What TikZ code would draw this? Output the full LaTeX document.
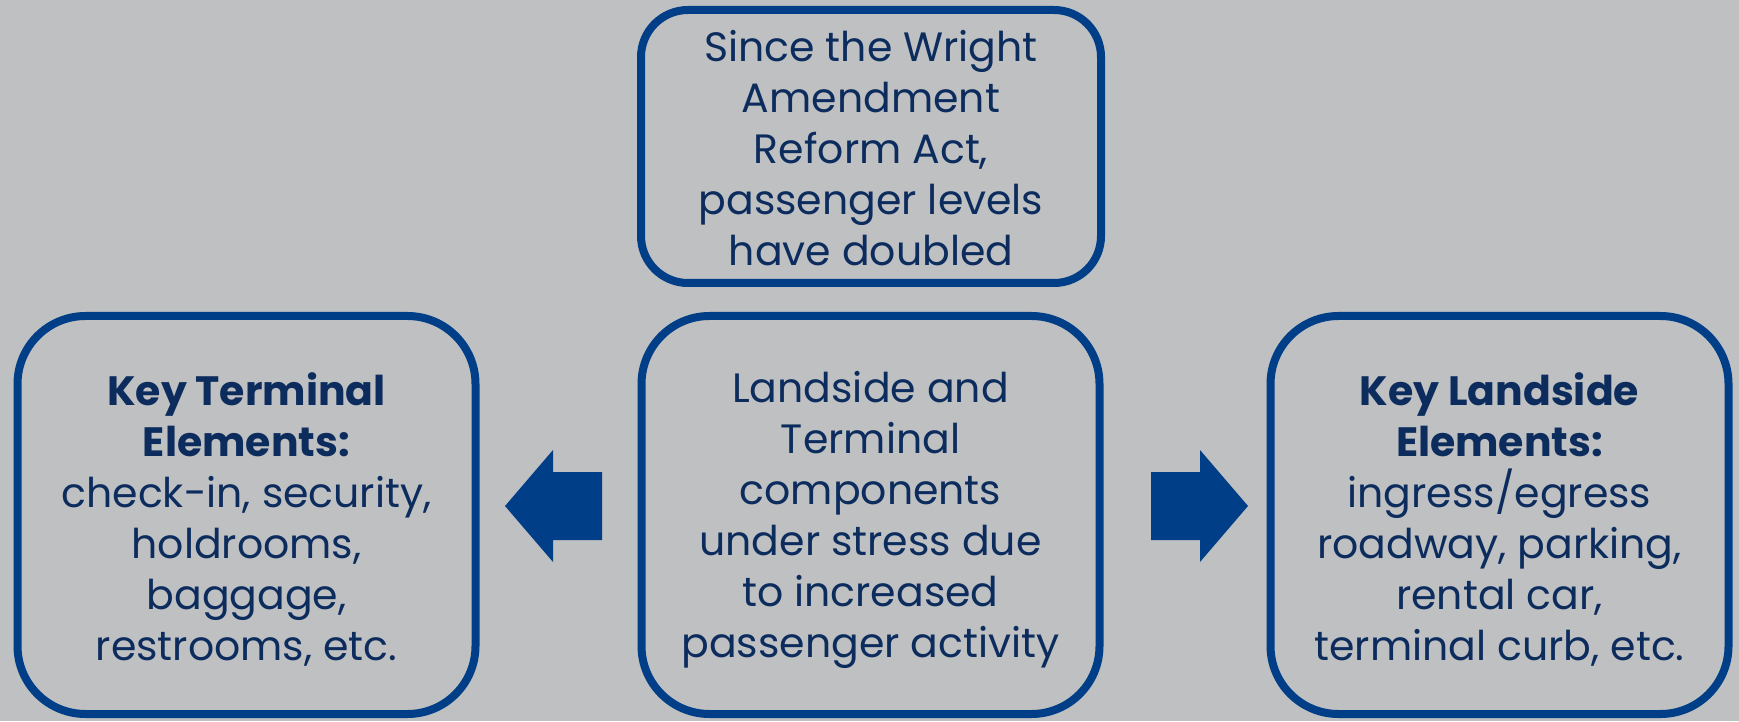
\documentclass[tikz,border=0pt]{standalone}
\usepackage{fontspec}
\setmainfont{Poppins}
\definecolor{bgc}{HTML}{BFC0C2}
\definecolor{bordc}{HTML}{003F88}
\definecolor{txtc}{HTML}{0C2C5E}
\begin{document}
\begin{tikzpicture}[x=1pt,y=1pt,
  txt/.style={align=center, text=txtc, inner sep=0pt, font=\fontsize{41}{51}\selectfont},
  box/.style={draw=bordc, line width=8pt, inner sep=0pt},
  bigbox/.style={box, minimum width=458pt, minimum height=398pt, rounded corners=68pt},
  blockarrow/.style={fill=bordc}
]
\fill[bgc] (0,0) rectangle (1739,721);
\useasboundingbox (0,0) rectangle (1739,721);
\node[box, minimum width=460pt, minimum height=273pt, rounded corners=47pt,
  label={[txt, yshift=-2pt]center:{Since the Wright\\Amendment\\Reform Act,\\passenger levels\\have doubled}}] (top) at (871,574.5) {};
\node[bigbox,
  label={[txt, yshift=-5pt]center:{\textbf{Key Terminal}\\\textbf{Elements:}\\check-in, security,\\holdrooms,\\baggage,\\restrooms, etc.}}] (left) at (246.5,206) {};
\node[bigbox,
  label={[txt, yshift=-5pt]center:{Landside and\\Terminal\\components\\under stress due\\to increased\\passenger activity}}] (mid) at (870.5,206) {};
\node[bigbox,
  label={[txt, yshift=-5pt]center:{\textbf{Key Landside}\\\textbf{Elements:}\\ingress/egress\\roadway, parking,\\rental car,\\terminal curb, etc.}}] (right) at (1499.5,206) {};
\fill[blockarrow] (505,215) -- (553,271) -- (553,249) -- (602,249) -- (602,181) -- (553,181) -- (553,159) -- cycle;
\fill[blockarrow] (1248,215) -- (1200,271) -- (1200,249) -- (1151,249) -- (1151,181) -- (1200,181) -- (1200,159) -- cycle;
\end{tikzpicture}
\end{document}
